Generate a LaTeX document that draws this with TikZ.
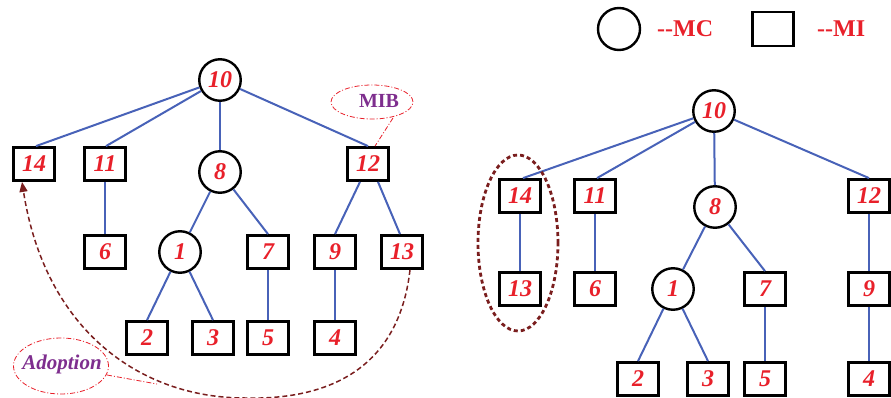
\documentclass[tikz,border=0pt]{standalone}
\usepackage{fontspec}
\setmainfont{Liberation Serif}
\usetikzlibrary{arrows.meta,shapes.geometric}
\definecolor{numred}{HTML}{E8202A}
\definecolor{edgeblue}{HTML}{4862B8}
\definecolor{adopt}{HTML}{7A1E1E}
\definecolor{purp}{HTML}{7E2E8E}
\begin{document}
\begin{tikzpicture}[x=1pt,y=-1pt,
  mc/.style={circle,draw=black,line width=2.4pt,minimum size=41.5pt,inner sep=0pt,
    font=\fontsize{24}{24}\selectfont\bfseries\itshape,text=numred},
  mi/.style={rectangle,draw=black,line width=2.8pt,minimum width=40.5pt,minimum height=33pt,inner sep=0pt,
    font=\fontsize{24}{24}\selectfont\bfseries\itshape,text=numred},
  edge/.style={draw=edgeblue,line width=2pt},
  callout/.style={draw=numred,line width=0.8pt,dash pattern=on 5pt off 2pt on 1pt off 2pt},
  legtext/.style={text=numred,font=\fontsize{24}{24}\selectfont\bfseries,anchor=west,inner sep=0pt}]
\useasboundingbox (0,0) rectangle (891,398);

% ---------- left tree ----------
\node[mc] (L10) at (220,80) {10};
\node[mi] (L14) at (34,164) {14};
\node[mi] (L11) at (105,164) {11};
\node[mc] (L8) at (220,172) {8};
\node[mi] (L12) at (368,164) {12};
\node[mi] (L6) at (105,252) {6};
\node[mc] (L1) at (180,252) {1};
\node[mi] (L7) at (268,252) {7};
\node[mi] (L9) at (335,252) {9};
\node[mi] (L13) at (402,252) {13};
\node[mi] (L2) at (147,338) {2};
\node[mi] (L3) at (213,338) {3};
\node[mi] (L5) at (268,338) {5};
\node[mi] (L4) at (335,338) {4};

\draw[edge] (L10) -- ([xshift=2pt]L14.north);
\draw[edge] (L10) -- ([xshift=1pt]L11.north);
\draw[edge] (L10) -- (L8);
\draw[edge] (L10) -- (L12.north);
\draw[edge] (L11) -- (L6);
\draw[edge] (L8) -- (L1);
\draw[edge] (L8) -- (L7.north);
\draw[edge] (L1) -- (L2.north);
\draw[edge] (L1) -- (L3.north);
\draw[edge] (L7) -- (L5);
\draw[edge] ([xshift=-8pt]L12.south) -- (L9.north);
\draw[edge] ([xshift=10pt]L12.south) -- ([xshift=-2pt]L13.north);
\draw[edge] (L9) -- (L4);

% MIB callout
\node[ellipse,callout,minimum width=82pt,minimum height=34pt,inner sep=0pt] (mib) at (372,102) {};
\node[text=purp,font=\fontsize{20}{20}\selectfont\bfseries,inner sep=0pt] (mibt) at (379,101) {MIB};
\draw[callout] (393,118) -- ([xshift=7pt]L12.north);

% adoption arrow
\coordinate (abot) at (245,398);
\draw[adopt,line width=1.5pt,dash pattern=on 5pt off 3pt,-{Triangle[length=10pt,width=8pt]}]
  ([xshift=8pt]L13.south) .. controls (398,375) and (320,400) .. (abot)
  .. controls (140,398) and (45,330) .. ([xshift=-12pt]L14.south);

% Adoption callout
\node[ellipse,callout,minimum width=95pt,minimum height=56pt,inner sep=0pt] (adel) at (61,366) {};
\node[text=purp,font=\fontsize{21}{21}\selectfont\bfseries\itshape,inner sep=0pt] (adt) at (62,364) {Adoption};
\coordinate (adtip) at (157,384);
\draw[callout] (107,375) -- (adtip);

% ---------- legend ----------
\node[circle,draw=black,line width=2.4pt,minimum size=42pt,inner sep=0pt] (legc) at (619,29) {};
\node[legtext] (legmc) at (657,29) {-{}-MC};
\node[rectangle,draw=black,line width=2.8pt,minimum width=41pt,minimum height=34pt,inner sep=0pt] (legb) at (773,29) {};
\node[legtext] (legmi) at (817,29) {-{}-MI};

% ---------- right tree ----------
\node[mc] (R10) at (714,111) {10};
\node[mi] (R14) at (520,196) {14};
\node[mi] (R11) at (595,196) {11};
\node[mc] (R8) at (715,207) {8};
\node[mi] (R12) at (869,196) {12};
\node[mi] (R13) at (520,289) {13};
\node[mi] (R6) at (595,289) {6};
\node[mc] (R1) at (673,289) {1};
\node[mi] (R7) at (765,289) {7};
\node[mi] (R9) at (869,289) {9};
\node[mi] (R2) at (638,379) {2};
\node[mi] (R3) at (708,379) {3};
\node[mi] (R5) at (765,379) {5};
\node[mi] (R4) at (869,379) {4};

\draw[edge] (R10) -- ([xshift=3pt]R14.north);
\draw[edge] (R10) -- ([xshift=2pt]R11.north);
\draw[edge] (R10) -- (R8);
\draw[edge] (R10) -- (R12.north);
\draw[edge] (R14) -- (R13);
\draw[edge] (R11) -- (R6);
\draw[edge] (R8) -- (R1);
\draw[edge] (R8) -- (R7.north);
\draw[edge] (R1) -- (R2.north);
\draw[edge] (R1) -- (R3.north);
\draw[edge] (R7) -- (R5);
\draw[edge] (R12) -- (R9);
\draw[edge] (R9) -- (R4);

\node[ellipse,draw=adopt,line width=2.8pt,dash pattern=on 4pt off 3pt,minimum width=80pt,minimum height=176pt,inner sep=0pt] (grp) at (518,243) {};
\end{tikzpicture}
\end{document}
